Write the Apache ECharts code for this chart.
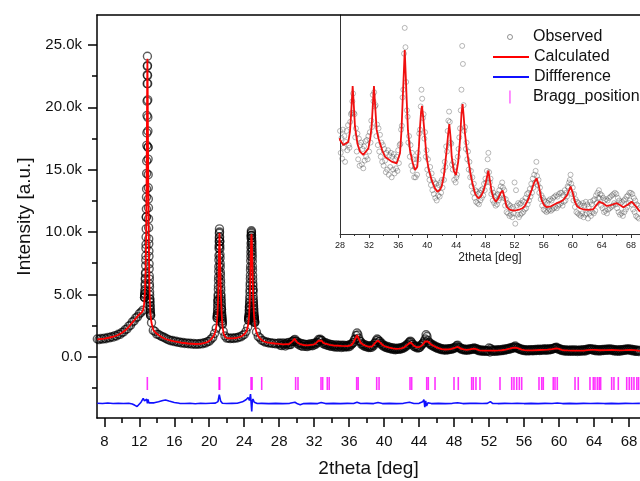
<!DOCTYPE html>
<html>
<head>
<meta charset="utf-8">
<script src="https://cdn.jsdelivr.net/npm/echarts@6/dist/echarts.min.js"></script>
<style>
html,body{margin:0;padding:0;background:#fff;}
#c{width:640px;height:481px;}
</style>
</head>
<body>
<div id="c"></div>
<script>
// ---------- DATA ----------
// Calculated profile [2theta, intensity]
const calculated = [
[7.2,1390],[7.6,1420],[8.0,1450],[8.5,1520],[9.0,1600],[9.5,1720],[10.0,1900],[10.4,2120],[10.8,2400],[11.1,2650],
[11.4,2900],[11.7,3150],[11.9,3330],[12.1,3450],[12.3,3560],[12.45,3750],[12.55,4200],[12.65,5200],[12.72,6800],[12.78,9500],
[12.83,13500],[12.87,18000],[12.9,21800],[12.93,23900],[12.96,21800],[12.99,18000],[13.03,13500],[13.08,9500],[13.14,6500],[13.2,4600],
[13.28,3400],[13.4,2700],[13.6,2150],[13.9,1900],[14.2,1740],[14.6,1560],[15.0,1420],[15.4,1330],[16.0,1230],[16.8,1120],
[17.6,1060],[18.4,1020],[19.0,1030],[19.5,1100],[19.9,1210],[20.2,1380],[20.5,1650],[20.7,2000],[20.85,2600],[20.95,3500],
[21.03,5000],[21.08,6800],[21.12,8600],[21.17,9930],[21.22,8600],[21.27,6800],[21.33,5000],[21.42,3400],[21.52,2400],[21.65,1850],
[21.85,1560],[22.1,1480],[22.6,1470],[23.1,1500],[23.5,1580],[23.8,1680],[24.1,1870],[24.3,2100],[24.45,2550],[24.56,3300],
[24.64,4600],[24.7,6200],[24.75,8000],[24.79,9300],[24.83,9830],[24.87,9300],[24.92,8000],[24.97,6200],[25.03,4600],[25.12,3300],
[25.24,2450],[25.4,1950],[25.6,1650],[25.9,1400],[26.2,1240],[26.6,1150],[27.0,1100],[27.5,1060],[28.0,1030],[28.46,991],
[29.15,1017],[29.37,1094],[29.55,1250],[29.74,1449],[29.9,1300],[30.06,1133],[30.4,1000],[30.75,939],[31.2,914],[31.9,965],
[32.15,1040],[32.35,1133],[32.5,1290],[32.67,1449],[32.85,1280],[33.04,1108],[33.3,1040],[33.5,1004],[33.8,950],[34.19,900],
[35.1,862],[35.8,849],[36.25,927],[36.45,1100],[36.62,1340],[36.78,1560],[36.9,1728],[37.02,1560],[37.17,1340],[37.35,1100],
[37.62,952],[38.0,850],[38.31,797],[38.63,823],[38.85,980],[39.0,1133],[39.15,1250],[39.27,1294],[39.4,1230],[39.55,1133],
[39.9,900],[40.2,800],[40.6,720],[41.0,660],[41.38,629],[41.7,640],[41.98,668],[42.3,760],[42.67,953],[42.88,1080],
[43.03,1154],[43.2,1050],[43.36,900],[43.65,790],[43.95,758],[44.25,860],[44.5,1030],[44.7,1230],[44.86,1309],[45.0,1220],
[45.18,1082],[45.4,970],[45.64,875],[46.0,750],[46.32,668],[46.6,610],[47.0,578],[47.35,590],[47.7,629],[48.05,700],
[48.39,792],[48.6,720],[48.85,629],[49.1,580],[49.44,551],[49.8,580],[50.1,620],[50.36,637],[50.6,590],[50.9,512],
[51.3,490],[51.83,481],[52.3,485],[52.74,492],[53.1,500],[53.43,518],[53.9,570],[54.35,642],[54.7,700],[55.04,733],
[55.35,670],[55.72,564],[56.05,525],[56.41,508],[57.0,515],[57.78,539],[58.3,550],[58.7,564],[59.2,600],[59.71,668],
[60.0,620],[60.3,551],[60.6,515],[60.99,500],[61.5,490],[62.2,488],[62.82,492],[63.2,520],[63.64,551],[64.1,540],
[64.66,518],[65.3,525],[66.03,539],[66.5,525],[66.95,508],[67.5,525],[68.1,551],[68.6,520],[69.25,474]
];

// Observed counts, coarse part (7.2 .. 27.8, step 0.2)
const obsLowStart = 7.2, obsLowStep = 0.2;
const obsLow = [
1420,1370,1460,1410,1490,1440,1550,1510,1600,1570,
1690,1660,1800,1790,1940,1980,2170,2230,2450,2530,
2780,2870,3110,3200,3440,3560,3720,
4750,11200,16800,4620,2730,2110,2020,1810,1780,1690,
1610,1560,1480,1410,1350,1280,1300,1210,1240,1150,
1180,1100,1140,1060,1110,1040,1080,1010,1060,990,
1050,1000,1060,1030,1120,1100,1210,1240,1410,1540,
1860,2280,4470,9250,3780,2040,1660,1490,1510,1450,
1500,1460,1520,1500,1590,1590,1710,1780,2020,2380,
3980,9700,5380,2740,1980,1620,1510,1320,1270,1170,
1180,1100,1130,1060,1090,1030,1070
];
// Observed counts, peak regions (step 0.01)
const obsFineStep = 0.01;
const peak1Start = 12.60;
const obsPeak1 = [
4750,4790,4950,5060,5050,5280,5400,5700,5850,6200,
6300,6650,6750,7300,7750,8100,8700,9000,9600,10250,
11200,11850,12800,13450,14700,15700,16950,17950,19350,20500,
21900,22600,23300,24100,23350,22550,21900,20600,19200,18100,
16800,15850,14600,13550,12650,11950,11050,10350,9450,9050,
8480,8050,7450,7050,6480,6220,5830,5600,5200,4950,
4620,4430,4340,4120,4040,3830,3720,3540,3420,3330,3300
];
const peak2Start = 20.90;
const obsPeak2 = [
3080,3120,3260,3300,3440,3480,3720,3860,4100,4230,
4470,4600,4850,4980,5400,5700,6120,6400,6850,7220,
7750,8120,8680,8900,9250,9550,9900,10250,10000,9600,
9250,8900,8650,8200,7920,7480,7200,6780,6540,6180,
5930,5580,5330,4980,4850,4620,4490,4270,4130,3910,
3780,3560,3420,3290,3220,3080,3020,2890,2820,2690,2610
];
const peak3Start = 24.50;
const obsPeak3 = [
2920,2940,3060,3080,3190,3210,3330,3440,3660,3770,
3980,4090,4310,4420,4640,4850,5170,5380,5700,5910,
6250,6540,6960,7250,7700,8050,8400,8750,9100,9500,
9700,9900,10100,10000,9750,9500,9300,9150,8950,8700,
8450,8220,7980,7660,7250,6950,6540,6220,5900,5690,
5380,5160,4850,4620,4440,4330,4150,4040,3870,3750,
3570,3460,3290,3250,3140,3100,3010,2970,2870,2830,2740
];
// Observed counts, high-angle part (28.0 .. 69.2, step 0.1)
const obsHighStart = 28.0, obsHighStep = 0.1;
const obsHigh = [
1100,930,1045,885,1110,970,1060,860,1015,1100,
950,1145,990,970,1170,1230,1240,1330,1390,1240,
1230,1050,1120,940,1080,880,1040,830,990,1010,
840,960,810,980,870,1020,900,1030,880,1060,
940,1090,1010,1180,1130,1380,1330,1400,1290,1300,
1060,1150,990,1120,940,1070,900,1010,860,990,
830,960,870,780,930,800,950,760,910,820,
930,740,900,800,920,770,880,810,900,790,
950,850,990,1000,1110,1140,1360,1420,1700,1900,
1750,1480,1260,1210,1010,1060,900,990,830,930,
790,880,740,820,740,880,760,930,880,1080,
1110,1290,1420,1350,1200,1230,1040,1090,900,950,
800,880,760,720,820,680,770,640,720,610,
700,580,690,560,660,600,680,590,700,620,
720,660,790,720,860,820,980,940,1100,1180,
1250,1170,1010,1000,840,800,860,720,820,700,
740,760,900,960,1050,1120,1260,1420,1760,1620,
1300,1100,1130,960,1010,880,940,800,860,740,
790,670,740,620,690,580,640,550,630,540,
610,530,620,560,640,580,650,600,690,640,
730,700,790,880,930,780,700,730,610,650,
560,620,540,590,520,600,530,610,560,640,
580,670,600,700,660,580,640,520,570,470,
540,460,530,440,520,450,500,430,510,460,
700,380,640,520,450,540,430,530,450,540,
460,560,470,550,490,580,500,610,530,620,
560,650,590,690,620,730,660,760,700,790,
860,750,680,720,620,660,570,600,520,580,
490,560,480,550,470,540,480,560,490,570,
480,560,490,580,500,590,510,600,500,590,
520,610,530,620,540,620,520,600,550,640,
560,620,590,670,660,700,720,760,690,610,
660,560,610,510,570,470,550,460,540,450,
530,440,520,460,540,430,520,450,550,460,
530,420,510,460,550,440,530,470,560,460,
570,480,600,540,620,580,640,580,610,520,
600,500,580,470,560,480,570,460,560,490,
580,500,590,510,600,520,610,540,620,530,
610,500,580,470,560,450,540,460,550,440,
560,470,570,490,590,510,600,540,620,560,
620,530,610,490,580,470,560,440,530,430,
520,420,500
];

// Difference curve [2theta, offset difference]
const difference = [
[7.2,-3730],[7.8,-3760],[8.4,-3720],[9.0,-3750],[9.6,-3730],[10.2,-3760],[10.8,-3740],[11.2,-3790],[11.5,-3900],[11.75,-4000],
[11.95,-3880],[12.2,-3650],[12.45,-3350],[12.6,-3550],[12.75,-3700],[12.85,-3400],[12.93,-3750],[13.0,-3420],[13.1,-3700],[13.3,-3760],
[13.7,-3700],[14.2,-3620],[14.7,-3520],[15.0,-3470],[15.4,-3560],[16.0,-3680],[16.6,-3740],[17.2,-3760],[17.8,-3740],[18.4,-3770],
[19.0,-3740],[19.6,-3760],[20.2,-3730],[20.7,-3720],[21.0,-3600],[21.15,-3050],[21.3,-3550],[21.5,-3740],[22.0,-3760],[22.6,-3740],
[23.2,-3730],[23.8,-3620],[24.2,-3450],[24.45,-3280],[24.6,-3500],[24.72,-3000],[24.8,-3800],[24.86,-4400],[24.92,-3600],[25.0,-3400],
[25.15,-3650],[25.5,-3760],[26.0,-3740],[26.8,-3760],[27.6,-3740],[28.4,-3760],[29.2,-3740],[29.8,-3650],[30.1,-3780],[30.4,-3850],
[30.8,-3760],[31.6,-3740],[32.4,-3760],[32.8,-3680],[33.3,-3760],[34.2,-3740],[35.0,-3760],[35.8,-3740],[36.5,-3760],[36.9,-3650],
[37.3,-3760],[38.0,-3740],[38.8,-3760],[39.3,-3680],[39.8,-3760],[40.6,-3740],[41.4,-3760],[42.2,-3740],[42.9,-3660],[43.4,-3760],
[44.0,-3740],[44.4,-3620],[44.55,-3450],[44.65,-4050],[44.75,-3550],[44.85,-3950],[45.0,-3700],[45.4,-3760],[46.2,-3740],[47.0,-3760],
[47.8,-3740],[48.4,-3700],[49.0,-3760],[49.8,-3740],[50.5,-3730],[51.2,-3760],[51.8,-3740],[52.15,-3600],[52.4,-3740],[53.0,-3760],
[53.8,-3740],[54.6,-3750],[55.2,-3730],[56.0,-3760],[56.8,-3740],[57.6,-3760],[58.4,-3740],[59.2,-3750],[59.8,-3720],[60.4,-3760],
[61.2,-3740],[62.0,-3760],[62.8,-3740],[63.6,-3750],[64.4,-3730],[65.2,-3760],[66.0,-3740],[66.8,-3760],[67.6,-3740],[68.4,-3750],
[69.25,-3740]
];

// Bragg reflection positions (2theta) and their marker level
const braggPositions = [12.92,21.13,21.2,24.78,24.9,26.0,29.88,30.15,32.78,32.97,33.5,33.72,36.86,37.03,39.15,39.42,42.96,43.15,44.87,45.05,45.82,47.99,48.48,50.01,50.2,50.5,50.96,53.25,54.59,54.85,55.16,55.46,55.73,57.71,58.02,58.2,59.34,59.54,59.8,61.83,62.2,63.54,63.92,64.11,64.38,64.6,64.76,66.02,66.28,66.78,67.74,68.03,68.3,68.57,68.9,69.1];
const braggLevel = -2150;

// Axis ticks
const xMajorTicks = [8,12,16,20,24,28,32,36,40,44,48,52,56,60,64,68];
const xMinorTicks = [10,14,18,22,26,30,34,38,42,46,50,54,58,62,66];
const yMajorTicks = [0,5000,10000,15000,20000,25000];
const yTickLabels = ['0.0','5.0k','10.0k','15.0k','20.0k','25.0k'];
const yMinorTicks = [-2500,2500,7500,12500,17500,22500];
const insetMajorTicks = [28,32,36,40,44,48,52,56,60,64,68];
const insetMinorTicks = [30,34,38,42,46,50,54,58,62,66];

// ---------- BUILD ----------
function seg(start, step, vals){ return vals.map((v,i)=>[+(start+i*step).toFixed(3), v]); }
const observedMain = [].concat(
  seg(obsLowStart, obsLowStep, obsLow),
  seg(peak1Start, obsFineStep, obsPeak1),
  seg(peak2Start, obsFineStep, obsPeak2),
  seg(peak3Start, obsFineStep, obsPeak3),
  seg(obsHighStart, obsHighStep, obsHigh)
);
const observedInset = seg(obsHighStart, obsHighStep, obsHigh);
const braggData = braggPositions.map(p=>[p, braggLevel]);

const FONT = '"Liberation Sans", Arial, sans-serif';
const MAIN_X = [7.165, 69.26];
const MAIN_Y = [-4917, 27408];
const INSET_X = [28, 69.25];
const INSET_Y = [300, 2000];

const chart = echarts.init(document.getElementById('c'), null, {renderer:'canvas'});
const hiddenLine = {show:false, onZero:false};
const legendBase = {
  orient:'horizontal', padding:0, itemWidth:36, selectedMode:false,
  textStyle:{fontFamily:FONT, fontSize:16, color:'#111', lineHeight:18}
};
const noSymbolStyle = {color:'rgba(0,0,0,0)', borderWidth:0, borderColor:'rgba(0,0,0,0)'};
chart.setOption({
  animation:false,
  backgroundColor:'#fff',
  grid:[
    {left:97, top:15, right:0, bottom:63, containLabel:false, outerBoundsMode:'none'},
    {left:340, top:15, right:0, bottom:247, containLabel:false, outerBoundsMode:'none'},
    {left:97, top:15, right:0, bottom:63, containLabel:false, outerBoundsMode:'none'},
    {left:340, top:15, right:0, bottom:247, containLabel:false, outerBoundsMode:'none'}
  ],
  legend:[
    Object.assign({}, legendBase, {left:507, top:28, itemHeight:5,
      data:[{name:'Observed', icon:'circle', itemStyle:{color:'rgba(0,0,0,0)', borderColor:'#777', borderWidth:1}}]}),
    Object.assign({}, legendBase, {left:492, top:48, itemHeight:14,
      data:[{name:'Calculated', itemStyle:noSymbolStyle}]}),
    Object.assign({}, legendBase, {left:492, top:68, itemHeight:14,
      data:[{name:'Diffference', itemStyle:noSymbolStyle}]}),
    Object.assign({}, legendBase, {left:509, top:88, itemHeight:13,
      data:[{name:'Bragg_position', icon:'path://M0,0h2v14h-2z', itemStyle:{color:'#ff66ff'}}]})
  ],
  xAxis:[
    {type:'value', gridIndex:0, position:'bottom', min:MAIN_X[0], max:MAIN_X[1],
     axisLine:{show:true, onZero:false, lineStyle:{color:'#000', width:1.5}},
     axisTick:{show:true, inside:false, length:9, customValues:xMajorTicks, lineStyle:{color:'#000', width:1.5}},
     axisLabel:{show:true, customValues:xMajorTicks, fontFamily:FONT, fontSize:15, color:'#111', margin:16},
     splitLine:{show:false},
     name:'2theta [deg]', nameLocation:'middle', nameGap:41,
     nameTextStyle:{fontFamily:FONT, fontSize:19, color:'#111'}},
    {type:'value', gridIndex:0, position:'top', min:MAIN_X[0], max:MAIN_X[1],
     axisLine:{show:true, onZero:false, lineStyle:{color:'#000', width:1.5}},
     axisTick:{show:false}, axisLabel:{show:false}, splitLine:{show:false}},
    {type:'value', gridIndex:1, position:'bottom', min:INSET_X[0], max:INSET_X[1],
     axisLine:{show:true, onZero:false, lineStyle:{color:'#333', width:1}},
     axisTick:{show:true, inside:false, length:4, customValues:insetMajorTicks, lineStyle:{color:'#333', width:1}},
     axisLabel:{show:true, customValues:insetMajorTicks, fontFamily:FONT, fontSize:9, color:'#222', margin:7},
     splitLine:{show:false},
     name:'2theta [deg]', nameLocation:'middle', nameGap:18,
     nameTextStyle:{fontFamily:FONT, fontSize:12, color:'#222'}},
    {type:'value', gridIndex:2, position:'bottom', min:MAIN_X[0], max:MAIN_X[1],
     axisLine:hiddenLine,
     axisTick:{show:true, inside:false, length:5, customValues:xMinorTicks, lineStyle:{color:'#000', width:1.5}},
     axisLabel:{show:false}, splitLine:{show:false}},
    {type:'value', gridIndex:3, position:'bottom', min:INSET_X[0], max:INSET_X[1],
     axisLine:hiddenLine,
     axisTick:{show:true, inside:false, length:2, customValues:insetMinorTicks, lineStyle:{color:'#333', width:1}},
     axisLabel:{show:false}, splitLine:{show:false}}
  ],
  yAxis:[
    {type:'value', gridIndex:0, position:'left', min:MAIN_Y[0], max:MAIN_Y[1],
     axisLine:{show:true, onZero:false, lineStyle:{color:'#000', width:1.5}},
     axisTick:{show:true, inside:false, length:9, customValues:yMajorTicks, lineStyle:{color:'#000', width:1.5}},
     axisLabel:{show:true, customValues:yMajorTicks, fontFamily:FONT, fontSize:15, color:'#111', margin:15,
       formatter:function(v){ const i = yMajorTicks.indexOf(v); return i>=0 ? yTickLabels[i] : ''; }},
     splitLine:{show:false},
     name:'Intensity [a.u.]', nameLocation:'middle', nameGap:63, nameRotate:90,
     nameTextStyle:{fontFamily:FONT, fontSize:19, color:'#111'}},
    {type:'value', gridIndex:1, position:'left', min:INSET_Y[0], max:INSET_Y[1],
     axisLine:{show:true, onZero:false, lineStyle:{color:'#333', width:1}},
     axisTick:{show:false}, axisLabel:{show:false}, splitLine:{show:false}},
    {type:'value', gridIndex:2, position:'left', min:MAIN_Y[0], max:MAIN_Y[1],
     axisLine:hiddenLine,
     axisTick:{show:true, inside:false, length:5, customValues:yMinorTicks, lineStyle:{color:'#000', width:1.5}},
     axisLabel:{show:false}, splitLine:{show:false}},
    {type:'value', gridIndex:3, position:'left', min:INSET_Y[0], max:INSET_Y[1],
     axisLine:hiddenLine, axisTick:{show:false}, axisLabel:{show:false}, splitLine:{show:false}}
  ],
  series:[
    {name:'Observed', type:'scatter', xAxisIndex:0, yAxisIndex:0, data:observedMain, silent:true,
     symbol:'circle', symbolSize:8, clip:true,
     itemStyle:{color:'rgba(0,0,0,0)', borderColor:'rgba(0,0,0,0.8)', borderWidth:1.4}, z:2},
    {name:'Calculated', type:'line', xAxisIndex:0, yAxisIndex:0, data:calculated, silent:true,
     symbol:'none', showSymbol:false, clip:true, lineStyle:{color:'#ff0000', width:1.8}, itemStyle:{color:'#ff0000'}, z:3},
    {name:'Diffference', type:'line', xAxisIndex:0, yAxisIndex:0, data:difference, silent:true,
     symbol:'none', showSymbol:false, clip:true, lineStyle:{color:'#1010ff', width:1.6}, itemStyle:{color:'#1010ff'}, z:3},
    {name:'Bragg_position', type:'scatter', xAxisIndex:0, yAxisIndex:0, data:braggData, silent:true,
     symbol:'rect', symbolSize:[1.6,13], clip:true, itemStyle:{color:'#ff00ff'}, z:3},
    {name:'Observed', type:'scatter', xAxisIndex:2, yAxisIndex:1, data:observedInset, silent:true,
     symbol:'circle', symbolSize:5, clip:true,
     itemStyle:{color:'rgba(0,0,0,0)', borderColor:'rgba(70,70,70,0.6)', borderWidth:0.8}, z:2},
    {name:'Calculated', type:'line', xAxisIndex:2, yAxisIndex:1, data:calculated, silent:true,
     symbol:'none', showSymbol:false, clip:true, lineStyle:{color:'#f01010', width:1.8}, itemStyle:{color:'#f01010'}, z:3}
  ]
});
</script>
</body>
</html>
